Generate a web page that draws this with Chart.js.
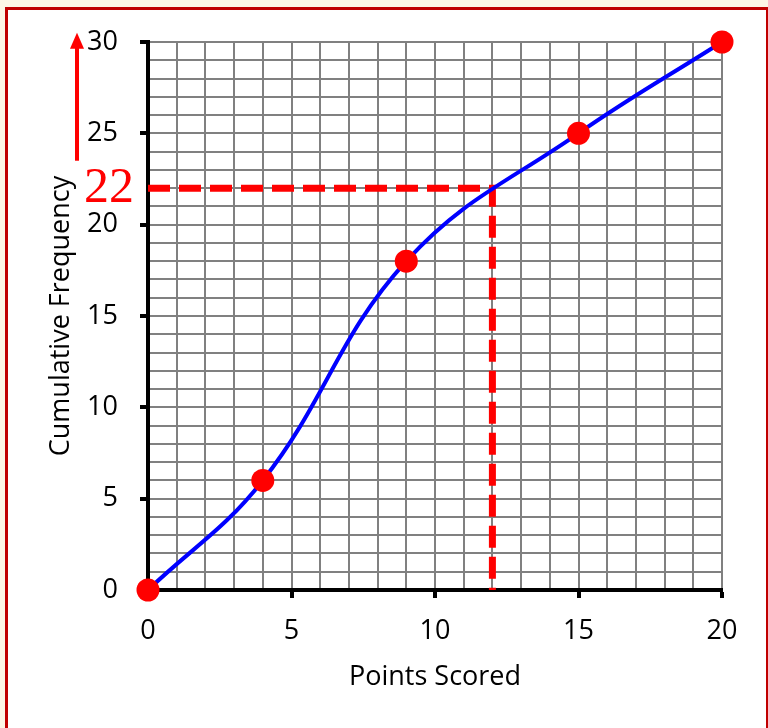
<!DOCTYPE html>
<html>
<head>
<meta charset="utf-8">
<script src="https://cdn.jsdelivr.net/npm/chart.js@4.4.1/dist/chart.umd.min.js"></script>
<style>
  html, body { margin: 0; padding: 0; background: #fdf6e6; }
  #frame {
    position: absolute; left: 5px; top: 7px; width: 758px; height: 740px;
    background: #ffffff; border: 3px solid #c00000; border-right-width: 2px;
  }
  #chart { position: absolute; left: 0; top: 0; }
</style>
</head>
<body>
<div id="frame"></div>
<canvas id="chart" width="768" height="728"></canvas>
<script>
// Cumulative frequency data
const pointsScored = [0, 4, 9, 15, 20];
const cumFrequency = [0, 6, 18, 25, 30];

// Reading off the curve
const readPoints = [0, 12, 12];
const readFreq = [22, 22, 0];
const readLabel = '22';

const curveData = pointsScored.map((x, i) => ({ x: x, y: cumFrequency[i] }));
const readData = readPoints.map((x, i) => ({ x: x, y: readFreq[i] }));

// Red "22" label and the arrow pointing up the axis
const readingPlugin = {
    id: 'reading',
    afterDraw(chart) {
        const ctx = chart.ctx;
        const yScale = chart.scales.y;
        const left = chart.chartArea.left;
        ctx.save();
        ctx.fillStyle = '#ff0000';
        ctx.font = '50px "Liberation Serif"';
        ctx.textAlign = 'right';
        ctx.textBaseline = 'middle';
        ctx.fillText(readLabel, left - 14, yScale.getPixelForValue(22) + 1);

        // arrow
        const ax = left - 71;
        const yBottom = yScale.getPixelForValue(23.5);
        const yTip = yScale.getPixelForValue(30.5);
        ctx.strokeStyle = '#ff0000';
        ctx.lineWidth = 4;
        ctx.beginPath();
        ctx.moveTo(ax, yBottom);
        ctx.lineTo(ax, yTip + 12);
        ctx.stroke();
        ctx.beginPath();
        ctx.moveTo(ax, yTip);
        ctx.lineTo(ax - 7, yTip + 16);
        ctx.lineTo(ax + 7, yTip + 16);
        ctx.closePath();
        ctx.fill();
        ctx.restore();
    }
};

const tickFont = { family: '"Open Sans"', size: 27 };
const isMajor = (ctx) => ctx.tick && ctx.tick.value % 5 === 0;

new Chart(document.getElementById('chart'), {
    type: 'line',
    data: {
        datasets: [{
            data: curveData,
            borderColor: '#0000ff',
            borderWidth: 4,
            tension: 0.4,
            pointRadius: 11.5,
            pointBackgroundColor: '#ff0000',
            pointBorderWidth: 0,
            clip: false
        }, {
            data: readData,
            borderColor: '#ff0000',
            borderWidth: 7,
            borderDash: [22, 9],
            tension: 0,
            pointRadius: 0,
            clip: false
        }]
    },
    options: {
        responsive: false,
        animation: false,
        devicePixelRatio: 1,
        layout: { padding: { left: 0, right: 46, top: 42, bottom: 0 } },
        plugins: { legend: { display: false }, tooltip: { enabled: false } },
        scales: {
            x: {
                type: 'linear',
                min: 0,
                max: 20,
                afterFit(scale) { scale.height = 138; },
                ticks: {
                    stepSize: 1,
                    autoSkip: false,
                    maxRotation: 0,
                    color: '#000',
                    font: tickFont,
                    padding: 17,
                    callback: (v) => (v % 5 === 0 ? String(v) : '')
                },
                grid: {
                    color: '#808080',
                    lineWidth: 2,
                    tickLength: 8,
                    tickColor: (ctx) => (isMajor(ctx) ? '#000' : 'rgba(0,0,0,0)'),
                    tickWidth: 4
                },
                border: { color: '#000', width: 4 },
                title: {
                    display: true,
                    text: 'Points Scored',
                    color: '#000',
                    font: tickFont,
                    padding: { top: 0, bottom: 34 }
                }
            },
            y: {
                type: 'linear',
                min: 0,
                max: 30,
                afterFit(scale) { scale.width = 148; },
                ticks: {
                    stepSize: 1,
                    autoSkip: false,
                    color: '#000',
                    font: tickFont,
                    padding: 22,
                    callback: (v) => (v % 5 === 0 ? String(v) : '')
                },
                grid: {
                    color: '#808080',
                    lineWidth: 2,
                    tickLength: 8,
                    tickColor: (ctx) => (isMajor(ctx) ? '#000' : 'rgba(0,0,0,0)'),
                    tickWidth: 4
                },
                border: { color: '#000', width: 4 },
                title: {
                    display: true,
                    text: 'Cumulative Frequency',
                    color: '#000',
                    font: tickFont,
                    padding: { top: 45, bottom: 0 }
                }
            }
        }
    },
    plugins: [readingPlugin]
});
</script>
</body>
</html>
